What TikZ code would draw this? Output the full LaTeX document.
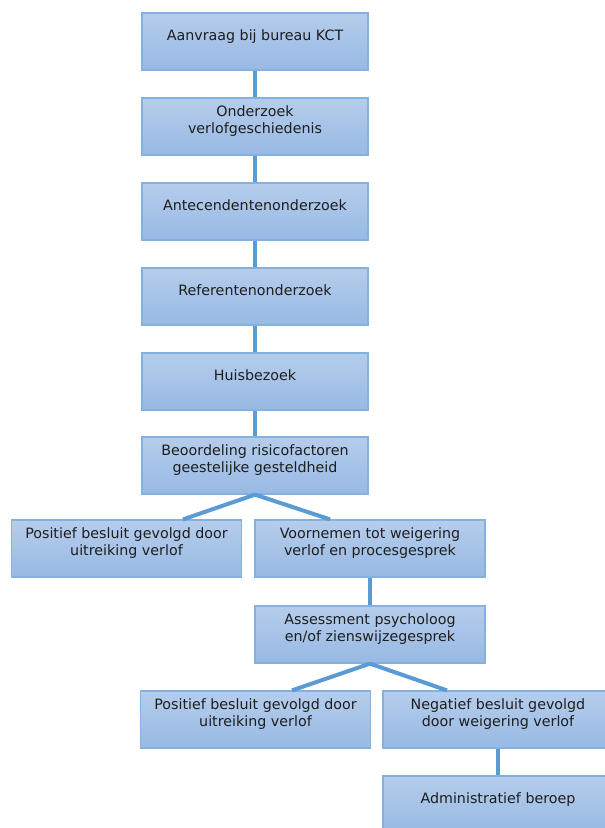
\documentclass[tikz,border=0pt]{standalone}
\usepackage{fontspec}
\setmainfont{DejaVu Sans}
\usetikzlibrary{calc}

\definecolor{kaderblauw}{RGB}{132,177,222}
\definecolor{lichtblauw}{RGB}{182,205,236}
\definecolor{donkerblauw}{RGB}{151,185,227}
\definecolor{lijnblauw}{RGB}{91,155,213}
\definecolor{tekstgrijs}{RGB}{30,30,30}

\tikzset{
  stap/.style={draw=kaderblauw, line width=0.9pt, top color=lichtblauw, bottom color=donkerblauw,
    minimum width=169.5pt, minimum height=42.75pt, inner sep=0pt, align=center,
    text=tekstgrijs, font=\fontsize{10.7pt}{12.8pt}\selectfont,
    execute at end node={\rule[-10pt]{0pt}{0pt}}},
  breed/.style={stap, minimum width=172.5pt},
  lijn/.style={draw=lijnblauw, line width=3pt}
}

\begin{document}
\begin{tikzpicture}[x=0.75pt, y=-0.75pt]
	% vaste afmetingen van het plaatje
	\useasboundingbox (0,0) rectangle (605,828);
	\clip (0,0) rectangle (605,828);
	
	% middelste kolom
	\node[stap] (aanvraag) at (255,41.5) {Aanvraag bij bureau KCT};
	\node[stap] (verlof) at (255,126.5) {Onderzoek\\verlofgeschiedenis};
	\node[stap] (antecedent) at (255,211.5) {Antecendentenonderzoek};
	\node[stap] (referent) at (255,296.5) {Referentenonderzoek};
	\node[stap] (huisbezoek) at (255,381.5) {Huisbezoek};
	\node[stap] (risico) at (255,465.5) {Beoordeling risicofactoren\\geestelijke gesteldheid};
	
	% eerste splitsing
	\node[breed] (positief1) at (126.5,548.5) {Positief besluit gevolgd door\\uitreiking verlof};
	\node[breed] (voornemen) at (370,548.5) {Voornemen tot weigering\\verlof en procesgesprek};
	\node[breed] (assessment) at (370,634.5) {Assessment psycholoog\\en/of zienswijzegesprek};
	
	% tweede splitsing
	\node[breed] (positief2) at (255.5,719.5) {Positief besluit gevolgd door\\uitreiking verlof};
	\node[breed] (negatief) at (498,719.5) {Negatief besluit gevolgd\\door weigering verlof};
	\node[breed] (beroep) at (498,804.5) {Administratief beroep};
	
	% verbindingen
	\draw[lijn] (aanvraag) -- (verlof);
	\draw[lijn] (verlof) -- (antecedent);
	\draw[lijn] (antecedent) -- (referent);
	\draw[lijn] (referent) -- (huisbezoek);
	\draw[lijn] (huisbezoek) -- (risico);
	\draw[lijn] (risico.south) -- ($(positief1.north)+(56.5,0)$);
	\draw[lijn] (risico.south) -- ($(voornemen.north)+(-40,0)$);
	\draw[lijn] (voornemen) -- (assessment);
	\draw[lijn] (assessment.south) -- ($(positief2.north)+(36.5,0)$);
	\draw[lijn] (assessment.south) -- ($(negatief.north)+(-51,0)$);
	\draw[lijn] (negatief) -- (beroep);
\end{tikzpicture}
\end{document}
